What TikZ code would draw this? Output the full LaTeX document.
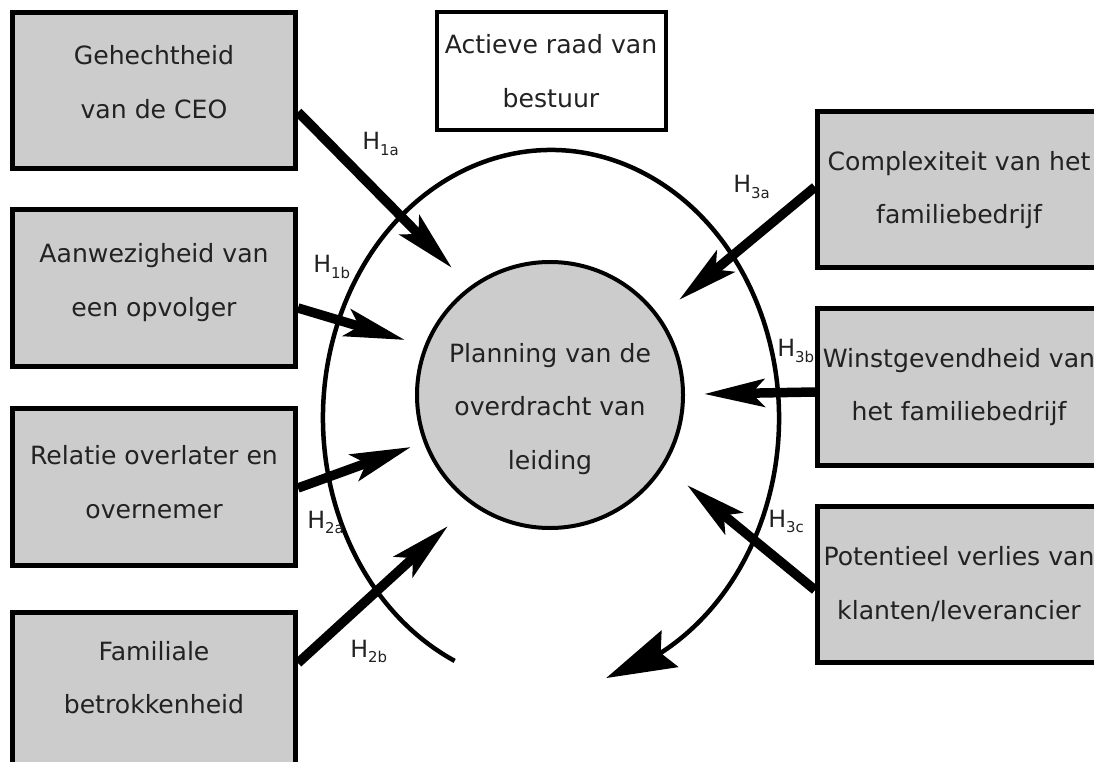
\documentclass[tikz,border=0pt]{standalone}
\usepackage{fontspec}
\setmainfont{DejaVu Sans}
\usetikzlibrary{arrows.meta,bending,calc}

\definecolor{boxgray}{HTML}{CCCCCC}
\definecolor{txtgray}{HTML}{222222}

% hypothesis label: H with a small subscript
\newcommand{\hlab}[1]{H\raisebox{-1.1mm}{\fontsize{8.5}{9}\selectfont #1}}
% extra depth below a text block, lifts it a little
\newcommand{\lift}[1]{\rule[-#1]{0pt}{0pt}}

\tikzset{
  factor/.style={draw, line width=1mm, fill=boxgray, minimum width=56.6mm,
    minimum height=31.2mm, inner sep=0pt, align=center, text=txtgray,
    font=\fontsize{14.3}{30.5}\selectfont},
  board/.style={draw, line width=0.8mm, fill=white, minimum width=45.8mm,
    minimum height=23.6mm, inner sep=0pt, align=center, text=txtgray,
    font=\fontsize{14.3}{30.5}\selectfont},
  planning/.style={draw, circle, line width=0.8mm, fill=boxgray,
    minimum size=53.2mm, inner sep=0pt, align=center, text=txtgray,
    font=\fontsize{14.3}{30.5}\selectfont},
  hyp/.style={-{Stealth[length=12mm,width=5.5mm,inset=2.5mm]}, line width=1.9mm},
  ringarrow/.style={-{Stealth[length=14mm,width=8mm,inset=2mm]}, line width=0.9mm},
  hlabel/.style={anchor=base west, inner sep=0pt, text=txtgray,
    font=\fontsize{13.5}{15}\selectfont}
}

\begin{document}
\begin{tikzpicture}[x=0.2mm,y=-0.2mm]
  \clip (0,0) rectangle (1094,762);
  \fill[white] (0,0) rectangle (1094,762);

  % outer ring
  \coordinate (ring) at (551,418);
  \draw[ringarrow] ($(ring)+(115:228 and 268)$)
    arc[start angle=115, end angle=436, x radius=228, y radius=268];

  % factors on the left
  \node[factor] (ceo) at (154,91)  {Gehechtheid\\van de CEO\lift{3.6mm}};
  \node[factor] (opv) at (154,288) {Aanwezigheid van\\een opvolger\lift{3.2mm}};
  \node[factor] (rel) at (154,487) {Relatie overlater en\\overnemer\lift{2mm}};
  \node[factor] (fam) at (154,690) {Familiale\\betrokkenheid\lift{5mm}};

  % factors on the right
  \node[factor] (cmp) at (959,190) {Complexiteit van het\\familiebedrijf};
  \node[factor] (wst) at (959,387) {Winstgevendheid van\\het familiebedrijf};
  \node[factor] (pot) at (959,584) {Potentieel verlies van\\klanten/leverancier};

  \node[board] (raad) at (551,71) {Actieve raad van\\bestuur};
  \node[planning] (plan) at (550,395)
    {\rule{0pt}{9.3mm}Planning van de\\overdracht van\\leiding};

  % arrow tips
  \coordinate (t1a) at (452,268);
  \coordinate (t1b) at (405,340);
  \coordinate (t2a) at (411,447);
  \coordinate (t2b) at (448,526);
  \coordinate (t3a) at (679,300);
  \coordinate (t3b) at (704,394);
  \coordinate (t3c) at (687,485);

  \draw[hyp] ($(ceo.east)+(0,21)$) -- (t1a);
  \draw[hyp] ($(opv.east)+(0,20)$) -- (t1b);
  \draw[hyp] ($(rel.east)+(0,1)$)  -- (t2a);
  \draw[hyp] ($(fam.east)+(0,-27)$) -- (t2b);
  \draw[hyp] ($(cmp.west)+(0,-3)$) -- (t3a);
  \draw[hyp] ($(wst.west)+(0,5)$)  -- (t3b);
  \draw[hyp] ($(pot.west)+(0,6)$)  -- (t3c);

  % hypothesis labels
  \node[hlabel] (h1a) at (362,150) {\hlab{1a}};
  \node[hlabel] (h1b) at (313,273) {\hlab{1b}};
  \node[hlabel] (h2a) at (307,528) {\hlab{2a}};
  \node[hlabel] (h2b) at (350,657) {\hlab{2b}};
  \node[hlabel] (h3a) at (733,193) {\hlab{3a}};
  \node[hlabel] (h3b) at (777,357) {\hlab{3b}};
  \node[hlabel] (h3c) at (768,527) {\hlab{3c}};
\end{tikzpicture}
\end{document}
